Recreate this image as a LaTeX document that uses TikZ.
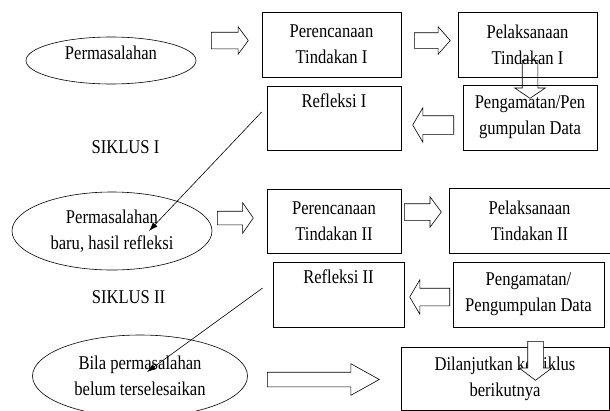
\documentclass[tikz,border=0pt]{standalone}
\usepackage{fontspec}
\setmainfont{Liberation Serif}[FakeStretch=0.85]
\usepackage{tikz}
\usetikzlibrary{calc}
\usetikzlibrary{arrows.meta}
\usetikzlibrary{shapes}

\begin{document}
\begin{tikzpicture}[
		%Global config
		>={Latex[length=9pt,width=6pt]},
		x=1pt, y=-1pt,
		line width=0.8pt,
		color = black,
		font=\fontsize{19.5}{26}\selectfont,
		%Styles
		Box/.style={
			draw,
			rectangle,
			align=center,
			inner sep=0pt,
		},
		Oval/.style={
			draw,
			ellipse,
			align=center,
			inner sep=0pt,
			line width=0.6pt,
		},
		HA/.style={
			single arrow,
			draw,
			anchor=tail,
			inner xsep=0pt,
			line width=0.6pt,
		},
		HAdown/.style={
			HA,
			shape border rotate=270,
			inner ysep=0pt,
			inner xsep=#1,
		},
		Top/.style={
			anchor=north,
			yshift=-4pt,
		},
		main/.style={
			line width=0.6pt,
			color=black
			}
		]
		\useasboundingbox (0,0) rectangle (610,410);

		% Siklus I
		\node[Oval, minimum width=170pt, minimum height=47pt, label={[yshift=8pt]center:Permasalahan}] (perm1) at (111,60.5) {};
		\node[HA, minimum height=37pt, inner ysep=8pt, single arrow head extend=5.5pt, single arrow tip angle=107] (a1) at (211,40.5) {};
		\node[Box, minimum width=139pt, minimum height=65pt] (renc1) at (331.5,44.5) {Perencanaan\\Tindakan I};
		\node[HA, minimum height=36pt, inner ysep=7.5pt, single arrow head extend=6pt, single arrow tip angle=97] (a2) at (414,40.5) {};
		\node[Box, minimum width=139pt, minimum height=65pt] (laks1) at (527.5,44.5) {Pelaksanaan\\Tindakan I};
		\node[Box, minimum width=134pt, minimum height=64pt, label={[Top]north:Refleksi I}] (refl1) at (334,118) {};
		\node[Box, minimum width=134pt, minimum height=65pt] (amat1) at (530,117.5) {Pengamatan/Pen\\gumpulan Data};
		\node[HAdown=7.5pt, minimum height=38pt, single arrow head extend=7.5pt, single arrow tip angle=112] (a3) at (530,60) {};
		\node[HA, minimum height=41pt, inner ysep=9pt, single arrow head extend=8pt, single arrow tip angle=119, shape border rotate=180] (a4) at (454,125) {};
		\node (sik1) at (125.5,147) {SIKLUS I};

		% Siklus II
		\node[Oval, minimum width=200pt, minimum height=78pt] (perm2) at (112,231) {Permasalahan\\baru, hasil refleksi};
		\node[HA, minimum height=36pt, inner ysep=6.5pt, single arrow head extend=8.5pt, single arrow tip angle=110] (a5) at (217,218) {};
		\node[Box, minimum width=134pt, minimum height=64pt] (renc2) at (334,221) {Perencanaan\\Tindakan II};
		\node[HA, minimum height=37pt, inner ysep=8pt, single arrow head extend=7pt, single arrow tip angle=107] (a6) at (404,212) {};
		\node[Box, minimum width=161pt, minimum height=65pt] (laks2) at (529.5,220.5) {Pelaksanaan\\Tindakan II};
		\node[Box, minimum width=131pt, minimum height=65pt, label={[Top]north:Refleksi II}] (refl2) at (338.5,294.5) {};
		\node[Box, minimum width=151pt, minimum height=65pt] (amat2) at (528.5,294.5) {Pengamatan/\\Pengumpulan Data};
		\node[HA, minimum height=40pt, inner ysep=8.5pt, single arrow head extend=8.5pt, single arrow tip angle=119, shape border rotate=180] (a7) at (450,297) {};
		\node (sik2) at (128.5,297) {SIKLUS II};

		% lanjut
		\node[Oval, minimum width=215pt, minimum height=82pt] (perm3) at (140,376) {Bila permasalahan\\belum terselesaikan};
		\node[HA, minimum height=112pt, inner ysep=7pt, single arrow head extend=8.5pt, single arrow tip angle=58] (a8) at (267,379.5) {};
		\node[Box, minimum width=208pt, minimum height=63pt] (lanjut) at (505,378.5) {Dilanjutkan ke siklus\\berikutnya};
		\node[HAdown=7.5pt, fill=white, minimum height=39pt, single arrow head extend=8.5pt, single arrow tip angle=106] (a9) at (535.5,341) {};

		% refleksi ke permasalahan
		\draw[main,->] ($(refl1.west)+(-5,-6)$) -- ($(perm2.center)+(37,0)$);
		\draw[main,->] ($(refl2.west)+(-10,-6.5)$) -- ($(perm3.center)+(7,-4)$);
	\end{tikzpicture}
\end{document}
